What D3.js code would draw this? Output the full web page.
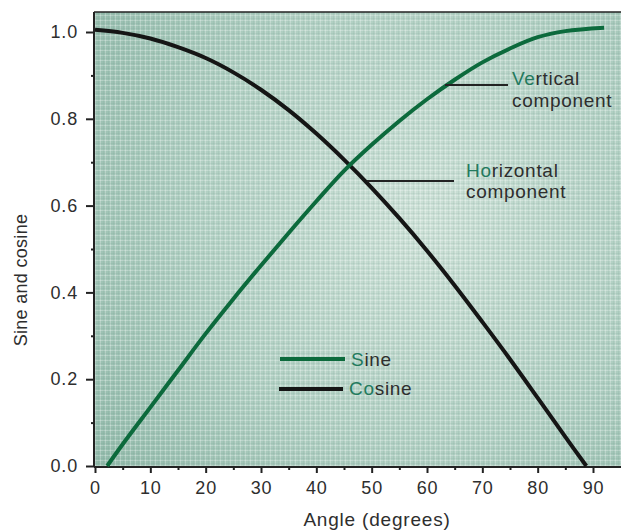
<!DOCTYPE html>
<html><head><meta charset="utf-8">
<script src="https://cdn.jsdelivr.net/npm/d3@7"></script>
<style>
html,body{margin:0;padding:0;background:#fff;}
svg{display:block;font-family:"Liberation Sans",Arial,sans-serif;}
</style></head>
<body><svg id="c" width="621" height="532"></svg>
<script>
// ---- data ----
const sineAngles  = [2.2, 5, 10, 15, 20, 25, 30, 35, 40, 45, 50, 55, 60, 65, 70, 75, 80, 85, 92];
const sineValues  = [0.00, 0.05, 0.135, 0.22, 0.305, 0.385, 0.462, 0.537, 0.61, 0.68, 0.74, 0.795, 0.845, 0.89, 0.93, 0.962, 0.988, 1.002, 1.01];
const cosineAngles = [0, 5, 10, 15, 20, 25, 30, 35, 40, 45, 50, 55, 60, 65, 70, 75, 80, 85, 88.8];
const cosineValues = [1.005, 0.998, 0.985, 0.965, 0.94, 0.907, 0.867, 0.82, 0.766, 0.706, 0.641, 0.571, 0.496, 0.416, 0.332, 0.246, 0.157, 0.067, 0.0];
const xTicks = [0, 10, 20, 30, 40, 50, 60, 70, 80, 90];
const xMinor = [5, 15, 25, 35, 45, 55, 65, 75, 85];
const yTicks = [0, 0.2, 0.4, 0.6, 0.8, 1.0];
const yMinor = [0.1, 0.3, 0.5, 0.7, 0.9];
const seriesNames = ["Sine", "Cosine"];

const GREEN = "#0c6a3c", TEXTG = "#237a5e", DARK = "#2e2e2e";
const FS = 19, LS = 0.7;
const svg = d3.select("#c");
const L = 94, R = 621, T = 12, B = 467;
const x = d3.scaleLinear().domain([0, 90]).range([95, 593]);
const y = d3.scaleLinear().domain([0, 1]).range([466, 32]);

const defs = svg.append("defs");
const rg = defs.append("radialGradient").attr("id", "bg")
  .attr("gradientUnits", "userSpaceOnUse").attr("cx", 420).attr("cy", 220).attr("r", 420);
rg.append("stop").attr("offset", "0%").attr("stop-color", "#cde1d7");
rg.append("stop").attr("offset", "55%").attr("stop-color", "#b0cfc2");
rg.append("stop").attr("offset", "100%").attr("stop-color", "#8fb8a8");
const pat = defs.append("pattern").attr("id", "grid").attr("patternUnits", "userSpaceOnUse")
  .attr("width", 5).attr("height", 5);
pat.append("path").attr("d", "M0,0.5H5M0.5,0V5").attr("stroke", "#ffffff").attr("stroke-opacity", 0.25).attr("stroke-width", 1);
pat.append("path").attr("d", "M0,3.5H5M3.5,0V5").attr("stroke", "#5f8f80").attr("stroke-opacity", 0.10).attr("stroke-width", 1);

svg.append("rect").attr("x", L).attr("y", T).attr("width", R - L).attr("height", B - T).attr("fill", "url(#bg)");
svg.append("rect").attr("x", L).attr("y", T).attr("width", R - L).attr("height", B - T).attr("fill", "url(#grid)");
svg.append("line").attr("x1", L).attr("x2", R).attr("y1", T).attr("y2", T).attr("stroke", "#222").attr("stroke-width", 1.5);

// axes
const fmtY = d => d.toFixed(1);
svg.append("g").attr("transform", `translate(${L},0)`)
  .call(d3.axisLeft(y).tickValues(yTicks).tickFormat(fmtY).tickSize(8).tickPadding(8));
svg.append("g").attr("transform", `translate(${L},0)`)
  .call(d3.axisLeft(y).tickValues(yMinor).tickFormat("").tickSize(3));
svg.append("g").attr("transform", `translate(0,${B})`)
  .call(d3.axisBottom(x).tickValues(xTicks).tickSize(6).tickPadding(8));
svg.append("g").attr("transform", `translate(0,${B})`)
  .call(d3.axisBottom(x).tickValues(xMinor).tickFormat("").tickSize(3));
svg.selectAll(".domain").remove();
svg.append("line").attr("x1", L).attr("x2", L).attr("y1", T).attr("y2", B).attr("stroke", "#222").attr("stroke-width", 2);
svg.append("line").attr("x1", L).attr("x2", R).attr("y1", B).attr("y2", B).attr("stroke", "#222").attr("stroke-width", 2);
svg.selectAll(".tick line").attr("stroke", "#222").attr("stroke-width", 2);
svg.selectAll(".tick text").attr("font-size", 18).attr("letter-spacing", 0.8).attr("fill", DARK)
  .attr("font-family", "Liberation Sans, Arial, sans-serif");

svg.append("text").attr("x", 377).attr("y", 526).attr("text-anchor", "middle")
  .attr("font-size", FS).attr("letter-spacing", 0.8).attr("fill", DARK).text("Angle (degrees)");
svg.append("text").attr("transform", "translate(27,280) rotate(-90)").attr("text-anchor", "middle")
  .attr("font-size", 18).attr("letter-spacing", 0.3).attr("fill", DARK).text("Sine and cosine");

// curves
const line = d3.line().x(d => x(d[0])).y(d => y(d[1])).curve(d3.curveCatmullRom.alpha(0.5));
svg.append("path").datum(cosineAngles.map((a, i) => [a, cosineValues[i]]))
  .attr("d", line).attr("fill", "none").attr("stroke", "#151515").attr("stroke-width", 4);
svg.append("path").datum(sineAngles.map((a, i) => [a, sineValues[i]]))
  .attr("d", line).attr("fill", "none").attr("stroke", GREEN).attr("stroke-width", 4);

// annotations
function twoTone(xp, yp, first, rest) {
  const t = svg.append("text").attr("x", xp).attr("y", yp).attr("font-size", FS)
    .attr("letter-spacing", LS).attr("fill", DARK);
  t.append("tspan").attr("fill", TEXTG).text(first);
  t.append("tspan").text(rest);
  return t;
}
function plain(xp, yp, s) {
  return svg.append("text").attr("x", xp).attr("y", yp).attr("font-size", FS)
    .attr("letter-spacing", LS).attr("fill", DARK).text(s);
}
svg.append("line").attr("x1", 445).attr("x2", 508).attr("y1", 85).attr("y2", 85).attr("stroke", "#222").attr("stroke-width", 2);
twoTone(512, 85, "Ve", "rtical");
plain(512, 107, "component");
svg.append("line").attr("x1", 367).attr("x2", 454).attr("y1", 181).attr("y2", 181).attr("stroke", "#222").attr("stroke-width", 2);
twoTone(466, 177, "Ho", "rizontal");
plain(466, 198, "component");

// legend
svg.append("line").attr("x1", 280).attr("x2", 345).attr("y1", 359).attr("y2", 359).attr("stroke", GREEN).attr("stroke-width", 4);
twoTone(351, 366, seriesNames[0].slice(0, 1), seriesNames[0].slice(1));
svg.append("line").attr("x1", 279).attr("x2", 343).attr("y1", 389).attr("y2", 389).attr("stroke", "#151515").attr("stroke-width", 4);
twoTone(349, 395, seriesNames[1].slice(0, 2), seriesNames[1].slice(2));
</script></body></html>
